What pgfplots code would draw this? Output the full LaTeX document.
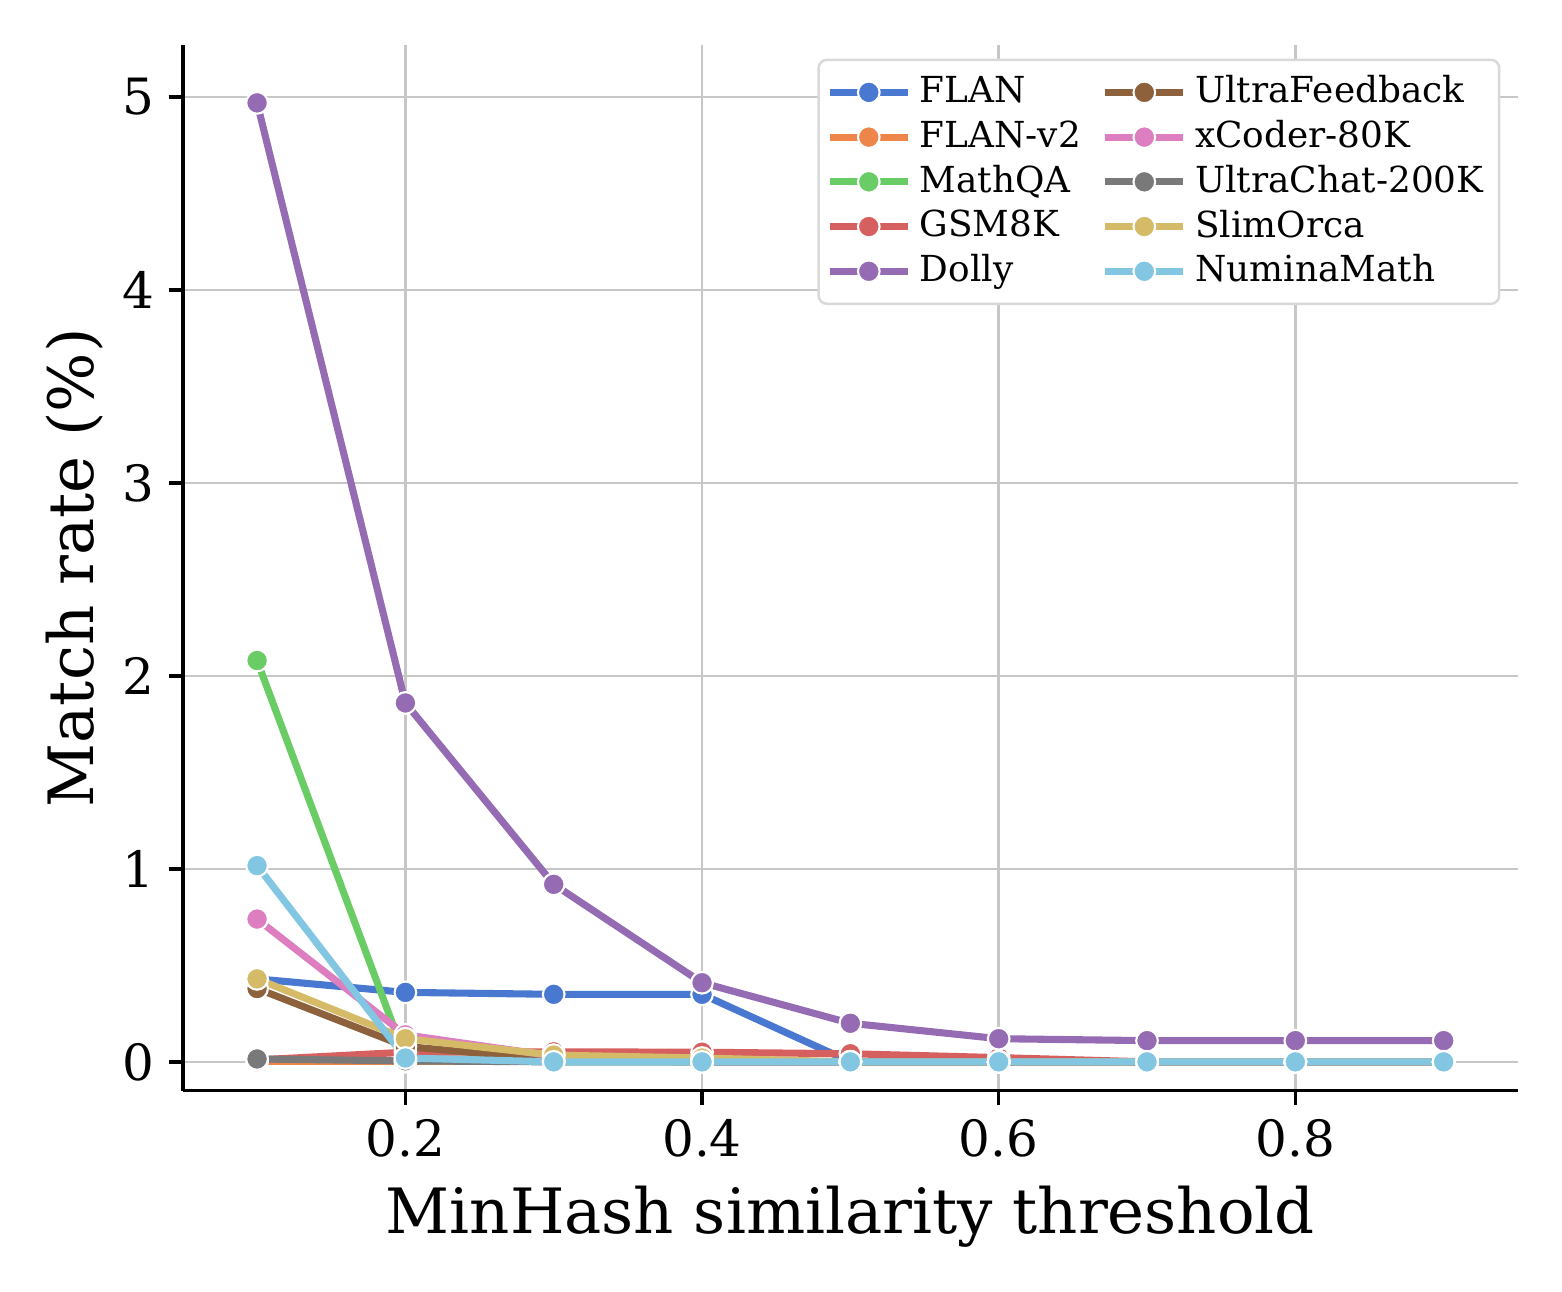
\documentclass[border=0pt]{standalone}
\usepackage{fontspec}
\setmainfont{DejaVu Serif}
\usepackage{pgfplots}
\pgfplotsset{compat=1.18}
\definecolor{cFLAN}{HTML}{4878D0}
\definecolor{cFLANv}{HTML}{EE854A}
\definecolor{cMath}{HTML}{6ACC64}
\definecolor{cGSM}{HTML}{D65F5F}
\definecolor{cDolly}{HTML}{956CB4}
\definecolor{cUF}{HTML}{8C613C}
\definecolor{cXC}{HTML}{DC7EC0}
\definecolor{cUC}{HTML}{797979}
\definecolor{cSO}{HTML}{D5BB67}
\definecolor{cNM}{HTML}{82C6E2}
\pgfplotsset{
  ser/.style={color=#1, line width=1.7pt, mark=*, mark size=2.6pt,
    mark options={draw=white, fill=#1, line width=0.5pt, solid}},
}
\begin{document}
\begin{tikzpicture}
\begin{axis}[
  scale only axis,
  width=320.4pt, height=251pt,
  xmin=0.05, xmax=0.95, ymin=-0.15, ymax=5.27,
  axis x line*=bottom, axis y line*=left,
  axis line style={-, line width=0.8pt, black},
  xtick={0.2,0.4,0.6,0.8}, ytick={0,1,2,3,4,5},
  xticklabel style={/pgf/number format/fixed, /pgf/number format/precision=1},
  tick align=outside, major tick length=3.4pt,
  tick style={line width=0.8pt, black},
  /pgf/number format/assume math mode=true,
  ticklabel style={font=\fontsize{12}{14}\selectfont},
  grid=major, major grid style={color=black!22, line width=0.6pt},
  xlabel={MinHash similarity threshold}, ylabel={Match rate (\%)},
  xlabel style={font=\fontsize{15}{18}\selectfont},
  ylabel style={font=\fontsize{15}{18}\selectfont, yshift=-2.4pt},
  legend columns=2, legend cell align=left,
  legend style={at={(rel axis cs:0.987,0.987)}, anchor=north east,
    font=\fontsize{8.6}{10}\selectfont, draw=black!15, rounded corners=2pt,
    line width=0.6pt, inner sep=1.8pt, row sep=-1.3pt,
    /tikz/every even column/.append style={column sep=3pt}},
  legend image code/.code={
    \draw[mark repeat=2,mark phase=2] plot coordinates {(0cm,0cm) (0.33cm,0cm) (0.66cm,0cm)};},
  clip=false,
]
\addplot[ser=cFLAN, forget plot] coordinates {(0.1,0.43) (0.2,0.36) (0.3,0.35) (0.4,0.35) (0.5,0) (0.6,0) (0.7,0) (0.8,0) (0.9,0)};
\addplot[ser=cFLANv, forget plot] coordinates {(0.1,0) (0.2,0) (0.3,0) (0.4,0) (0.5,0) (0.6,0) (0.7,0) (0.8,0) (0.9,0)};
\addplot[ser=cMath, forget plot] coordinates {(0.1,2.08) (0.2,0.02) (0.3,0) (0.4,0) (0.5,0) (0.6,0) (0.7,0) (0.8,0) (0.9,0)};
\addplot[ser=cGSM, forget plot] coordinates {(0.1,0.01) (0.2,0.05) (0.3,0.052) (0.4,0.05) (0.5,0.042) (0.6,0.022) (0.7,0) (0.8,0) (0.9,0)};
\addplot[ser=cDolly, forget plot] coordinates {(0.1,4.97) (0.2,1.86) (0.3,0.92) (0.4,0.41) (0.5,0.20) (0.6,0.12) (0.7,0.11) (0.8,0.11) (0.9,0.11)};
\addplot[ser=cUF, forget plot] coordinates {(0.1,0.38) (0.2,0.08) (0.3,0.01) (0.4,0) (0.5,0) (0.6,0) (0.7,0) (0.8,0) (0.9,0)};
\addplot[ser=cXC, forget plot] coordinates {(0.1,0.74) (0.2,0.14) (0.3,0.03) (0.4,0) (0.5,0) (0.6,0) (0.7,0) (0.8,0) (0.9,0)};
\addplot[ser=cUC, forget plot] coordinates {(0.1,0.015) (0.2,0.005) (0.3,0) (0.4,0) (0.5,0) (0.6,0) (0.7,0) (0.8,0) (0.9,0)};
\addplot[ser=cSO, forget plot] coordinates {(0.1,0.43) (0.2,0.12) (0.3,0.035) (0.4,0.02) (0.5,0) (0.6,0) (0.7,0) (0.8,0) (0.9,0)};
\addplot[ser=cNM, forget plot] coordinates {(0.1,1.017) (0.2,0.02) (0.3,0) (0.4,0) (0.5,0) (0.6,0) (0.7,0) (0.8,0) (0.9,0)};
\addlegendimage{ser=cFLAN}\addlegendentry{FLAN}
\addlegendimage{ser=cUF}\addlegendentry{UltraFeedback}
\addlegendimage{ser=cFLANv}\addlegendentry{FLAN-v2}
\addlegendimage{ser=cXC}\addlegendentry{xCoder-80K}
\addlegendimage{ser=cMath}\addlegendentry{MathQA}
\addlegendimage{ser=cUC}\addlegendentry{UltraChat-200K}
\addlegendimage{ser=cGSM}\addlegendentry{GSM8K}
\addlegendimage{ser=cSO}\addlegendentry{SlimOrca}
\addlegendimage{ser=cDolly}\addlegendentry{Dolly}
\addlegendimage{ser=cNM}\addlegendentry{NuminaMath}
\coordinate (bl) at (rel axis cs:0,0);
\coordinate (tr) at (rel axis cs:1,1);
\end{axis}
\path ([shift={(-43.9pt,-48.2pt)}]bl) rectangle ([shift={(10.6pt,10.8pt)}]tr);
\end{tikzpicture}
\end{document}
